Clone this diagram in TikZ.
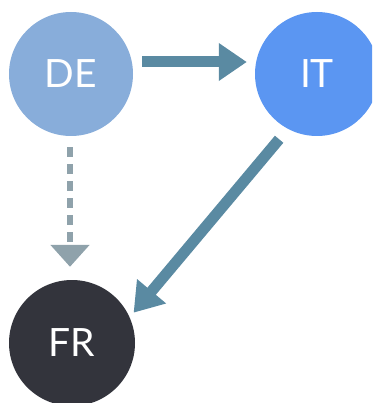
\documentclass[tikz,border=0pt]{standalone}
\usepackage{fontspec}
\setmainfont{Lato}
\usetikzlibrary{arrows.meta}
\definecolor{deC}{HTML}{88ADDA}
\definecolor{itC}{HTML}{5B96F2}
\definecolor{frC}{HTML}{33343C}
\definecolor{arrC}{HTML}{5A8AA2}
\definecolor{dashC}{HTML}{8FA2AB}
\tikzset{
  country/.style={circle, minimum size=124pt, inner sep=0pt, text=white, font=\fontsize{39}{42}\selectfont},
  solidarr/.style={draw=arrC, line width=11pt, -{Triangle[width=36pt,length=28pt]}, arrC},
  dasharr/.style={draw=dashC, line width=6.5pt, dash pattern=on 10pt off 7pt, -{Triangle[width=38pt,length=22pt]}, dashC}
}
\begin{document}
\begin{tikzpicture}[x=1pt,y=-1pt]
\useasboundingbox (0,0) rectangle (372,403);
\clip (0,0) rectangle (372,403);
\node[country, fill=deC] (de) at (71,74) {DE};
\node[country, fill=itC] (it) at (317,74) {IT};
\node[country, fill=frC, minimum size=126pt] (fr) at (72,343) {FR};
\draw[solidarr, shorten <=9pt, shorten >=8pt] ([yshift=12pt]de.east) -- ([yshift=12pt]it.west);
\draw[dasharr, shorten <=11pt, shorten >=13pt] ([xshift=-1pt]de.south) -- ([xshift=-2pt]fr.north);
\draw[solidarr, shorten <=13.5pt, shorten >=6pt] (it.242) -- (fr.24);
\end{tikzpicture}
\end{document}
